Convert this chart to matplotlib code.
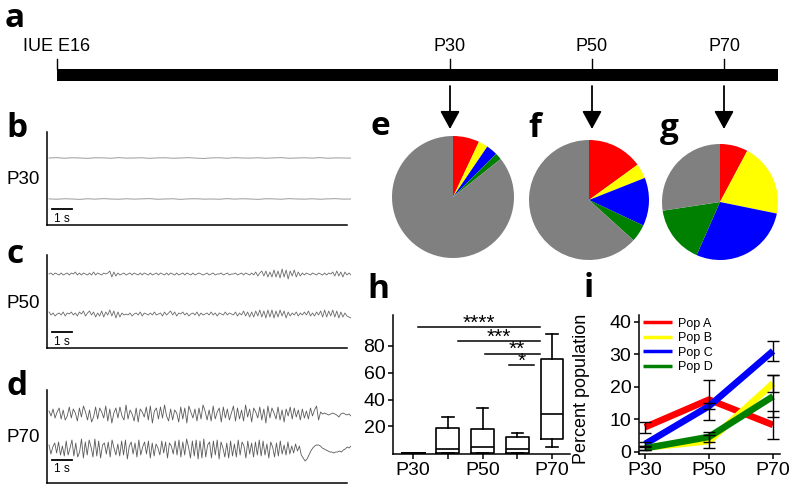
"""Multi-panel figure: timeline, example traces, population pies,
   box plot of activity and population time course.
"""
import numpy as np
import matplotlib
matplotlib.use("Agg")
import matplotlib.pyplot as plt
from matplotlib.patches import Rectangle

plt.rcParams['font.family'] = ['Liberation Sans', 'DejaVu Sans']

########
# DATA #
########
ages = ['P30', 'P50', 'P70']
timeline_start = 'IUE E16'

# example traces (b-d), amplitude in arbitrary units
b_top = [0, 0.3, -0.2, 0.2, 0, -0.3, 0.2, 0.1, -0.2, 0.3, -0.1, 0, 0.2, -0.3,
         0.1, 0.2, -0.2, 0, 0.3, -0.1, -0.4, 0.1, 0.2, -0.2, 0.3, 0, -0.1, 0.2,
         -0.2, 0.1, 0.3, -0.2, 0, 0.2, -0.1, 0.3, -0.2, 0.1, 0, -0.1]
b_bot = [0.1, -0.2, 0.2, 0, -0.3, 0.2, -0.1, 0.3, 0, -0.2, 0.2, -0.1, 0.1,
         0.3, -0.2, 0, 0.2, -0.3, 0.1, 0.2, -0.1, 0, -0.2, 0.3, -0.1, 0.2, 0,
         -0.3, 0.2, 0.1, -0.2, 0.3, 0, -0.1, 0.2, -0.2, 0.1, 0.3, -0.1, 0]
c_top = [0, 1, -1, 1, 0, -1, 1, -1, 0, 1, -1, 1, 0, 2, -1, 1, -1, 1, 0, -1,
         1, -1, 2, -1, 1, 0, -1, 1, 0, 1, 3, -3, 2, -2, 1, -1, 0, 1, -1, 0,
         1, -1, 1, 0, -1, 1, -1, 1, 0, -1, 1, -1, 0, 1, -1, 1, 0, -1, 1, -1,
         1, 0, -1, 1, -1, 0, 1, -1, 1, 0, -1, 1, -1, 0, 1, 0, -1, 0, 1, -1,
         0, 1, -1, 0, 0, 1, -1, 0, 1, -1, 0, 0, 1, -1, 0, 1, -1, 1, 0, -1,
         1, -1, 2, -2, 1, 3, -2, 3, -3, 2, -3, 4, -3, 3, -4, 5, -3, 4, -5, 3,
         -2, 4, -3, 2, -2, 1, -1, 1, 0, -1, 1, 0, -1, 1, 0, -1, 1, -1, 1, 0,
         2, -2, 3, -2, 2, -3, 2, -1, 1, -1]
c_bot = [2, -1, 1, -2, 0, 1, -1, 2, -2, 1, 0, 2, -1, 1, -2, 2, 0, 3, -2, 1,
         3, -1, 2, -3, 1, -2, 3, -3, 2, -1, 4, -2, 3, -4, 2, -3, 1, -1, 0, -1,
         1, -2, 0, 1, -1, 2, -2, 1, 0, -1, 1, -1, 2, -1, 0, 1, -2, 2, -1, 1,
         3, -1, 2, -2, 1, 0, 2, -1, 1, -2, 0, 1, -1, 2, -2, 1, -1, 0, 1, -1,
         2, -1, 1, -2, 1, 0, -1, 2, -1, 1, 0, -1, 2, -2, 1, -1, 3, -2, 2, -3,
         2, -3, 3, -2, 4, -3, 3, -4, 4, -3, 4, -4, 3, -3, 4, -2, 3, -4, 2, -2,
         1, -1, 2, -2, 1, -1, 2, -1, 3, -2, 1, -2, 2, -1, 3, -3, 4, -3, 3, -2,
         4, -3, 3, -4, 2, -3, 1, -2, -3, -4]
d_top = [3, -2, 5, -4, 2, 6, -5, 4, -6, -2, 7, -4, 5, 1, -7, 6, -3, 8, 2, -6,
         4, -8, -3, 7, -5, 6, 2, -4, 8, -7, 5, -9, 1, 6, -4, 7, -2, -6, 9, -5,
         4, 0, -7, 6, -8, 5, 2, -3, 7, -6, 8, -9, 3, 6, -5, 7, -4, 9, -2, -7,
         5, -6, 4, 1, -8, 7, -5, 6, -9, 8, 2, -4, 5, -7, 6, -5, 9, 3, -6, 4,
         -7, 8, -5, 2, 6, -8, 7, -4, 5, -6, 1, 8, -7, 6, -5, 4, -7, 9, -3, 5,
         -8, 6, 2, -4, 7, -6, 5, -9, 8, -4, 6, 1, -5, 7, -6, 4, -8, 5, -2, 7,
         -5, 6, -3, 4, -6, 5, -4, 3, -5, 6, -2, 4, 8, -6, 2, 0, 1, 0, -1, 0,
         1, 0, -1, -3, 0, 1, 0, -1, 0, -2]
d_bot = [4, -5, 2, 6, -4, 7, -6, 3, -7, 8, -6, 1, 9, -7, 6, -8, -3, 10, -9, 7,
         -6, 9, 2, -8, 10, -7, 8, -9, 4, 6, -5, 7, -8, 9, 1, -6, 5, -7, 8, -6,
         9, -10, 3, 7, -5, 6, -8, 9, -6, 2, 7, -5, 8, -9, 6, -7, 5, 1, -6, 8,
         -4, 7, -9, 6, 3, -5, 8, -6, 9, -8, 7, -6, 10, 2, -9, 8, -7, 9, -10, 8,
         -9, 10, -8, 4, 7, -9, 8, -6, 9, -10, 7, 1, -8, 6, -9, 8, -7, 5, -8, 9,
         -6, 7, 3, -9, 8, -5, 6, -8, 7, -6, 9, -7, 8, -6, 5, -9, 7, 2, -8, 6,
         -7, 8, -5, 4, -6, 7, -5, 3, -4, 5, -2, 3, -6, -9, -12, -10, -6, -2, 1, 3,
         4, 4, 3, 1, 0, -1, -2, -3, -3, -4, -3, -3, -2, -3, -1, 0, 2, 1, 3]

# pies (e-g): percent of cells per population, remainder unassigned
pop_names = ['Pop A', 'Pop B', 'Pop C', 'Pop D']
pie_p30 = [7.0, 2.5, 3.0, 1.8]
pie_p50 = [15.0, 4.0, 13.0, 4.7]
pie_p70 = [7.8, 20.4, 28.4, 16.0]

# box plot (h)
box_labels = ['P30', '', 'P50', '', 'P70']
box_lo = [0.3, 0.0, 0.0, 0.0, 4.7]
box_q1 = [0.3, 0.5, 0.5, 0.5, 11.0]
box_med = [0.3, 3.5, 5.0, 3.5, 29.2]
box_q3 = [0.3, 19.2, 18.0, 12.2, 70.0]
box_hi = [0.3, 26.7, 33.7, 15.5, 88.6]
sig_start = [1.14, 2.3, 3.07, 3.76]
sig_end = [4.65, 4.65, 4.65, 4.48]
sig_y = [93.7, 83.7, 74.3, 65.8]
sig_mid = [2.9, 3.47, 3.99, 4.14]
sig_text = ['****', '***', '**', '*']

# population time course (i)
pop_a = [7.5, 16.0, 8.2]
pop_b = [1.2, 3.2, 21.0]
pop_c = [2.3, 14.0, 31.0]
pop_d = [1.0, 4.5, 17.0]
err_a = [1.7, 6.2, 4.3]
err_b = [0.6, 2.0, 2.5]
err_c = [0.6, 1.0, 3.2]
err_d = [0.5, 1.5, 6.5]

pop_colors = ['#ff0000', '#ffff00', '#0000ff', '#008000']
rest_color = '#808080'

##########
# LAYOUT #
##########
W, H = 800, 492
fig = plt.figure(figsize=(W / 100, H / 100), dpi=100)


def px_axes(x0, y0, x1, y1):
    """axes from pixel box (top-left origin)"""
    return fig.add_axes([x0 / W, 1 - y1 / H, (x1 - x0) / W, (y1 - y0) / H])


ov = fig.add_axes([0, 0, 1, 1])
ov.set_xlim(0, W)
ov.set_ylim(H, 0)
ov.axis('off')

letter_kw = dict(fontsize=24, fontweight='bold', family='Open Sans',
                 va='baseline', ha='left')
for txt, x, y in [('a', 5, 27), ('b', 6, 137), ('c', 6, 263), ('d', 6, 395),
                  ('e', 370, 135), ('f', 528, 137), ('g', 660, 137),
                  ('h', 367, 298), ('i', 584, 297)]:
    ov.text(x, y, txt, **letter_kw)

# a: timeline
ov.add_patch(Rectangle((57, 69), 721, 12, color='k', lw=0))
ov.text(23, 51, timeline_start, fontsize=13, ha='left', va='baseline')
ov.plot([57, 57], [59, 69], color='k', lw=1)
for name, x in zip(ages, [450, 592, 724]):
    ov.text(x, 51, name, fontsize=13, ha='center', va='baseline')
    ov.plot([x, x], [59, 69], color='k', lw=1)
    ov.annotate('', xy=(x, 129), xytext=(x, 86),
                arrowprops=dict(arrowstyle='-|>,head_width=0.6,head_length=1.1',
                                color='k', lw=1.3, shrinkA=0, shrinkB=0))


# b-d: traces
def trace_panel(y_top, y_bot, traces, offsets, age, bar_y, text_y, color):
    ax = px_axes(47, y_top, 351, y_bot)
    ax.set_ylim(0, y_bot - y_top)
    ax.set_xlim(-0.1, 15.1)
    for tr, off in zip(traces, offsets):
        t = np.linspace(0, 15.1, len(tr))
        ax.plot(t, np.array(tr) + off, color=color, lw=0.6)
    ax.plot([0.15, 1.15], [bar_y, bar_y], color='k', lw=1.3)
    ax.text(0.65, text_y, '1 s', fontsize=8.5, ha='center', va='baseline')
    for s in ['top', 'right']:
        ax.spines[s].set_visible(False)
    for s in ['left', 'bottom']:
        ax.spines[s].set_linewidth(1.1)
    ax.spines['bottom'].set_bounds(-0.1, 14.9)
    ax.set_xticks([])
    ax.set_yticks([])
    ax.patch.set_alpha(0)
    ov.text(7, (y_top + y_bot) / 2 + 6, age, fontsize=13.5, ha='left',
            va='baseline')


trace_panel(132, 225, [b_top, b_bot], [67, 26], ages[0], 16, 3, '#8a8a8a')
trace_panel(255, 348, [c_top, c_bot], [74, 34], ages[1], 16, 3, '#6a6a6a')
trace_panel(390, 483, [d_top, d_bot], [69, 34], ages[2], 23, 11, '#5a5a5a')

# e-g: pies
for vals, (cx, cy, r) in zip([pie_p30, pie_p50, pie_p70],
                             [(453, 197, 61), (589, 200, 60), (720, 202, 58)]):
    ax = px_axes(cx - r, cy - r, cx + r, cy + r)
    ax.pie(vals + [100 - sum(vals)], colors=pop_colors + [rest_color],
           startangle=90, counterclock=False,
           wedgeprops=dict(linewidth=0))
    ax.set_xlim(-1, 1)
    ax.set_ylim(-1, 1)

# h: box plot
axh = px_axes(393, 315, 570, 454)
stats = [dict(whislo=lo, q1=q1, med=md, q3=q3, whishi=hi)
         for lo, q1, md, q3, hi in zip(box_lo, box_q1, box_med, box_q3, box_hi)]
line_kw = dict(color='k', lw=1.2)
axh.bxp(stats, positions=range(1, 6), widths=0.66, capwidths=0.33,
        showfliers=False, boxprops=line_kw, whiskerprops=line_kw,
        capprops=line_kw, medianprops=line_kw)
for x0, x1, y, xm, s in zip(sig_start, sig_end, sig_y, sig_mid, sig_text):
    axh.plot([x0, x1], [y, y], color='k', lw=1.1)
    axh.text(xm, y - 1.2, s, fontsize=15, ha='center', va='baseline')
axh.set_xlim(0.42, 5.52)
axh.set_ylim(-0.5, 103)
axh.set_xticks(range(1, 6))
axh.set_xticklabels(box_labels)
axh.set_yticks([20, 40, 60, 80])

# i: population time course
axi = px_axes(639, 315, 780, 454)
xs = np.arange(len(ages))
for vals, col, name in zip([pop_a, pop_b, pop_c, pop_d], pop_colors,
                           pop_names):
    axi.plot(xs, vals, color=col, lw=4.8, solid_capstyle='butt', label=name)
for vals, errs in zip([pop_a, pop_b, pop_c, pop_d],
                      [err_a, err_b, err_c, err_d]):
    axi.errorbar(xs, vals, yerr=errs, fmt='none', ecolor='k', elinewidth=1,
                 capsize=4, capthick=1, zorder=5)
leg = axi.legend(loc='upper left', bbox_to_anchor=(0.03, 0.98), frameon=False,
                 fontsize=9, handlelength=2.3, labelspacing=0.2,
                 handletextpad=0.5, borderpad=0, borderaxespad=0)
for ln in leg.get_lines():
    ln.set_linewidth(2.5)
axi.set_xlim(-0.094, 2.109)
axi.set_ylim(-0.77, 42.1)
axi.set_xticks(xs)
axi.set_xticklabels(ages)
axi.set_yticks([0, 10, 20, 30, 40])
axi.set_ylabel('Percent population', fontsize=13)
axi.yaxis.set_label_coords(-0.35, 0.47)

for ax in [axh, axi]:
    for s in ['top', 'right']:
        ax.spines[s].set_visible(False)
    for s in ['left', 'bottom']:
        ax.spines[s].set_linewidth(1.1)
    ax.tick_params(labelsize=14, length=3.5, width=1.1, pad=2)
    ax.patch.set_alpha(0)

fig.savefig('out.png', dpi=100)
